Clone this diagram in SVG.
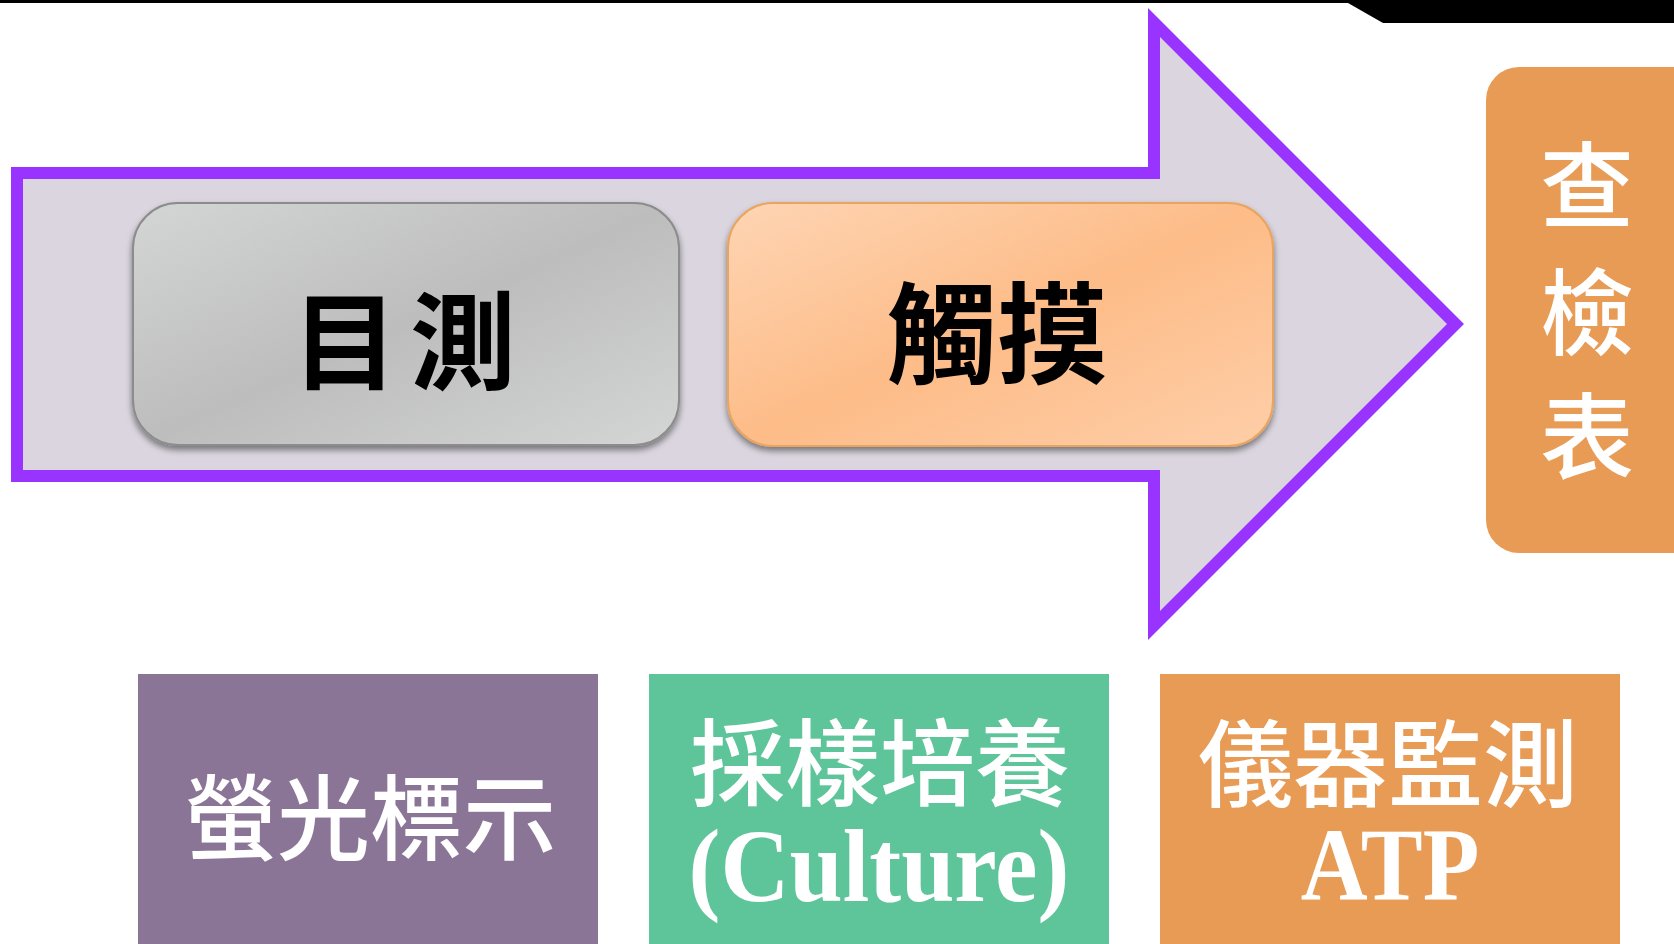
<svg xmlns="http://www.w3.org/2000/svg" width="1674" height="944" viewBox="0 0 1674 944">
  <style>
    .cjk { font-family: "Noto Sans CJK TC", "Noto Sans CJK SC", sans-serif; text-anchor: middle; dominant-baseline: central; }
    .blk { fill: #000000; font-weight: 700; }
    .wht { fill: #ffffff; font-weight: 500; }
    .lat { font-family: "Liberation Serif", "Times New Roman", serif; font-weight: 700; fill: #ffffff; text-anchor: middle; }
  </style>
  <defs>
    <linearGradient id="gGray" x1="0" y1="0" x2="1" y2="1">
      <stop offset="0" stop-color="#D4D5D5"/>
      <stop offset="0.5" stop-color="#BCBDBC"/>
      <stop offset="1" stop-color="#D4D5D5"/>
    </linearGradient>
    <linearGradient id="gPeach" x1="0" y1="0" x2="1" y2="1">
      <stop offset="0" stop-color="#FED5B4"/>
      <stop offset="0.5" stop-color="#FDBC88"/>
      <stop offset="1" stop-color="#FECEA8"/>
    </linearGradient>
    <filter id="shadow" x="-5%" y="-10%" width="110%" height="125%">
      <feDropShadow dx="0" dy="4" stdDeviation="3" flood-color="#000" flood-opacity="0.45"/>
    </filter>
  </defs>

  <rect x="0" y="0" width="1674" height="944" fill="#ffffff"/>

  <g id="topbar">
    <path d="M0,0 H1674 V23 H1383 L1348,3 H0 Z" fill="#000000"/>
  </g>

  <g id="arrow">
    <path d="M17,173 H1154 V22.5 L1455.5,324 L1154,625.5 V476 H17 Z" fill="#DAD5DE" stroke="#9933FF" stroke-width="12" stroke-linejoin="miter" stroke-miterlimit="10"/>
  </g>

  <g id="node-visual">
    <rect x="133" y="203" width="546" height="242" rx="45" fill="url(#gGray)" stroke="#8C8C8C" stroke-width="2" filter="url(#shadow)"/>
    <text class="cjk blk" x="410" y="335" font-size="106" letter-spacing="12">目測</text>
  </g>

  <g id="node-touch">
    <rect x="728" y="203" width="545" height="243" rx="45" fill="url(#gPeach)" stroke="#E9A460" stroke-width="2" filter="url(#shadow)"/>
    <text class="cjk blk" x="997" y="327" font-size="110">觸摸</text>
  </g>

  <g id="node-checklist">
    <rect x="1486" y="67" width="240" height="486" rx="33" fill="#E89B55"/>
    <text class="cjk wht" x="1587" y="180" font-size="94">查</text>
    <text class="cjk wht" x="1587" y="307" font-size="94">檢</text>
    <text class="cjk wht" x="1587" y="431" font-size="94">表</text>
  </g>

  <g id="node-fluorescent">
    <rect x="138" y="674" width="460" height="280" fill="#8A7597"/>
    <text class="cjk wht" x="370" y="812" font-size="93">螢光標示</text>
  </g>

  <g id="node-culture">
    <rect x="649" y="674" width="460" height="280" fill="#5EC59B"/>
    <text class="cjk wht" x="880" y="757" font-size="95">採樣培養</text>
    <text class="lat" transform="translate(879,901) scale(0.92,1)" x="0" y="0" font-size="104">(Culture)</text>
  </g>

  <g id="node-atp">
    <rect x="1160" y="674" width="460" height="280" fill="#E89B55"/>
    <text class="cjk wht" x="1388" y="758" font-size="95">儀器監測</text>
    <text class="lat" transform="translate(1390,900) scale(0.9,1)" x="0" y="0" font-size="103">ATP</text>
  </g>

  <g id="connectors"></g>
</svg>
